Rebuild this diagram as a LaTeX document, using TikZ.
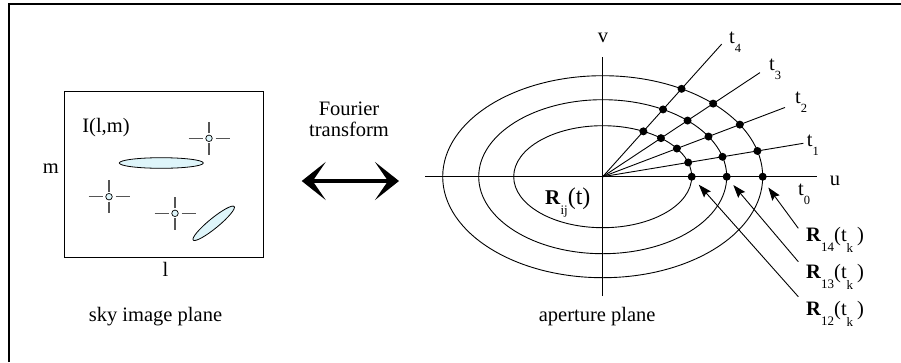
\documentclass[tikz,border=0pt]{standalone}
\usepackage{fontspec}
\setmainfont{Liberation Serif}
\usetikzlibrary{arrows.meta,shapes.geometric,calc}
\definecolor{skyc}{RGB}{222,245,250}
\definecolor{armc}{RGB}{85,85,85}
\newcommand{\tlab}[1]{t\raisebox{-9pt}{\fontsize{12.5}{13}\selectfont #1}}
\newcommand{\rlab}[1]{\textbf{R}\raisebox{-10pt}{\fontsize{13}{13}\selectfont #1}(t\raisebox{-11pt}{\fontsize{13}{13}\selectfont k}\kern4pt)}
\begin{document}
\begin{tikzpicture}[x=1pt,y=-1pt,
  lbl/.style={inner sep=0pt, font=\fontsize{20.5}{22}\selectfont, anchor=base},
  thinl/.style={line width=0.9pt},
  blob/.style={ellipse, draw, fill=skyc, inner sep=0pt, line width=0.8pt},
  ptsrc/.style={circle, draw, fill=skyc, inner sep=0pt, minimum size=6.5pt, line width=0.7pt},
  arm/.style={draw=armc, line width=1.1pt},
  dot/.style={circle, fill=black, inner sep=0pt, minimum size=8pt},
  ptr/.style={line width=0.9pt, -{Stealth[length=13pt,width=9pt,inset=2pt]}},
  bighead/.tip={Stealth[length=24pt,width=38pt,inset=13pt]}]
\useasboundingbox (0,0) rectangle (901,362);
% frame
\draw[line width=2.8pt] (9,362) -- (9,4) -- (901,4);

% sky image plane
\node[draw, line width=0.9pt, inner sep=0pt, minimum width=199pt, minimum height=166pt] (sky) at (163.5,174) {};
\node[blob, minimum width=84pt, minimum height=10.6pt] (src1) at (161.3,163) {};
\node[blob, minimum width=53pt, minimum height=10pt, rotate=39.3] (src2) at (213.7,223.3) {};
\node[ptsrc] (s1) at (209,138.3) {};
\node[ptsrc] (s2) at (109,196.7) {};
\node[ptsrc] (s3) at (175,213.3) {};
\foreach \s in {s1,s2,s3}{
  \draw[arm] ([xshift=-20.5pt]\s.center) -- ([xshift=-6.5pt]\s.center);
  \draw[arm] ([xshift=6.5pt]\s.center) -- ([xshift=20.5pt]\s.center);
  \draw[arm] ([yshift=5pt]\s.center) -- ([yshift=16.7pt]\s.center);
  \draw[arm] ([yshift=-5pt]\s.center) -- ([yshift=-16.7pt]\s.center);
}
\node[lbl] (ilm) at (106,132.7) {I(l,m)};
\node[lbl] (mlab) at (50.8,173.3) {m};
\node[lbl] (llab) at (165.5,276) {l};
\node[lbl] (skylab) at (155.5,321.7) {sky image plane};

% Fourier transform
\node[lbl] (ft1) at (349,115) {Fourier};
\node[lbl] (ft2) at (349,136.7) {transform};
\coordinate (fl) at (301.7,181);
\coordinate (fr) at (399,181);
\draw[line width=4pt, {bighead}-{bighead}] (fl) -- (fr);

% aperture plane
\begin{scope}[shift={(602.7,176.7)}, y=1pt]
  \coordinate (O) at (0,0);
  \coordinate (uL) at (-177.7,0);
  \coordinate (uR) at (214,0);
  \coordinate (vT) at (0,119.7);
  \coordinate (vB) at (0,-119.3);
  \draw[thinl] (uL) -- (uR);
  \draw[thinl] (vB) -- (vT);
  \draw[thinl] (O) ellipse [x radius=89, y radius=51];
  \draw[thinl] (O) ellipse [x radius=124, y radius=77];
  \draw[thinl] (O) ellipse [x radius=160, y radius=101];
  \foreach \k/\ang/\len in {1/9.45/203.4, 2/20.8/195, 3/33.5/188.6, 4/48.1/178.2}{
    \coordinate (ray\k) at (\ang:\len);
    \draw[thinl] (O) -- (ray\k);
  }
  \foreach \k/\ang in {0/0, 1/9.45, 2/20.8, 3/33.5, 4/48.1}{
    \foreach \e/\a/\b in {1/89/51, 2/124/77, 3/160/101}{
      \pgfmathsetmacro\rr{\a/sqrt(cos(\ang)^2+(\a/\b*sin(\ang))^2)}
      \node[dot] (d\e\k) at (\ang:\rr) {};
    }
  }
\end{scope}

\node[lbl] (vlab) at (603,42.7) {v};
\node[lbl] (ulab) at (835,185) {u};
\node[lbl, anchor=base west] (t4) at (729,43) {\tlab{4}};
\node[lbl, anchor=base west] (t3) at (769,70) {\tlab{3}};
\node[lbl, anchor=base west] (t2) at (795,103) {\tlab{2}};
\node[lbl, anchor=base west] (t1) at (806.7,146.7) {\tlab{1}};
\node[lbl, anchor=base west] (t0) at (798,195) {\tlab{0}};

\node[inner sep=0pt, anchor=base west] (rij) at (545,204) {\fontsize{21}{21}\selectfont\textbf{R}\raisebox{-10pt}{\fontsize{13}{13}\selectfont ij}\fontsize{24}{24}\selectfont(t)};

\node[lbl, anchor=base west] (r14) at (806,241.5) {\rlab{14}};
\node[lbl, anchor=base west] (r13) at (806,278) {\rlab{13}};
\node[lbl, anchor=base west] (r12) at (806,315) {\rlab{12}};
\draw[ptr] ($(r14.base west)+(-7.7,-13.2)$) -- ($(d30)+(5.6,10.8)$);
\draw[ptr] ($(r13.base west)+(-7.7,-16.3)$) -- ($(d20)+(6.6,8.3)$);
\draw[ptr] ($(r12.base west)+(-7.7,-18.3)$) -- ($(d10)+(7.1,8)$);

\node[lbl] (aplab) at (597.2,321.7) {aperture plane};
\end{tikzpicture}
\end{document}
